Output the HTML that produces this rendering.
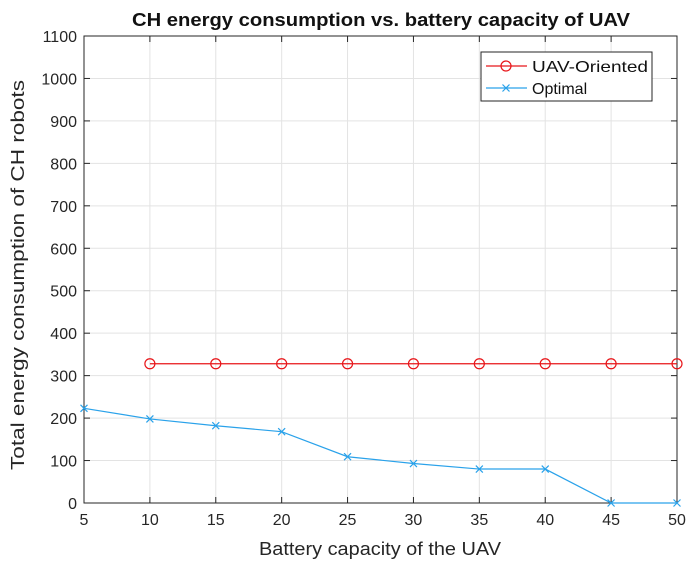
<!DOCTYPE html>
<html><head><meta charset="utf-8"><style>
body{margin:0;background:#fff;}
text{font-family:"Liberation Sans",Arial,sans-serif;}
</style></head><body>
<svg id="chart" width="694" height="568" xmlns="http://www.w3.org/2000/svg">
<rect width="694" height="568" fill="#fff"/>
<g id="grid"></g>
<g id="axes"></g>
<g id="series"></g>
<text x="381" y="26" text-anchor="middle" font-size="18" font-weight="bold" fill="#111" textLength="498" lengthAdjust="spacingAndGlyphs">CH energy consumption vs. battery capacity of UAV</text>
<text x="380" y="555" text-anchor="middle" font-size="18" fill="#262626" textLength="242" lengthAdjust="spacingAndGlyphs">Battery capacity of the UAV</text>
<text transform="translate(24,275) rotate(-90)" text-anchor="middle" font-size="18" fill="#262626" textLength="390" lengthAdjust="spacingAndGlyphs">Total energy consumption of CH robots</text>
<g>
<rect x="481" y="52" width="171" height="49" fill="#fff" stroke="#262626" stroke-width="1"/>
<g>
<line x1="486" y1="66" x2="527" y2="66" stroke="#e8161a" stroke-width="1.2"/>
<circle cx="506" cy="66" r="5" fill="none" stroke="#e8161a" stroke-width="1.2"/>
<text x="532" y="72" font-size="16" fill="#111" textLength="116" lengthAdjust="spacingAndGlyphs">UAV-Oriented</text>
</g>
<g>
<line x1="486" y1="88" x2="527" y2="88" stroke="#2aa2ea" stroke-width="1.2"/>
<path d="M502.5,84.5 L509.5,91.5 M509.5,84.5 L502.5,91.5" stroke="#2aa2ea" stroke-width="1.2"/>
<text x="532" y="94" font-size="16" fill="#111">Optimal</text>
</g>
</g>
</svg>
<script>
const xCategories=[5,10,15,20,25,30,35,40,45,50];
const uavX=[10,15,20,25,30,35,40,45,50];
const uavValues=[328,328,328,328,328,328,328,328,328];
const optimalValues=[223,198,182,168,109,93,80,80,0,0];
const yTicks=[0,100,200,300,400,500,600,700,800,900,1000,1100];
const xTicks=[5,10,15,20,25,30,35,40,45,50];
const L=84,R=677,T=36,B=503;
const xs=v=>L+(v-5)/45*(R-L);
const ys=v=>B-v/1100*(B-T);
const NS="http://www.w3.org/2000/svg";
function mk(tag,attrs,parent){const e=document.createElementNS(NS,tag);for(const k in attrs)e.setAttribute(k,attrs[k]);parent.appendChild(e);return e;}
const grid=document.getElementById('grid'),axes=document.getElementById('axes'),series=document.getElementById('series');
xTicks.forEach(t=>{
 const x=xs(t);
 const g=mk('line',{x1:x,y1:T,x2:x,y2:B,stroke:'#e3e3e3','stroke-width':1},grid);
 
 
 mk('line',{x1:x,y1:B,x2:x,y2:B-6,stroke:'#262626'},axes);
 mk('line',{x1:x,y1:T,x2:x,y2:T+6,stroke:'#262626'},axes);
 const tx=mk('text',{x:x,y:B+22,'text-anchor':'middle','font-size':16,fill:'#262626'},axes);
 tx.textContent=t;
 
 
});
yTicks.forEach(t=>{
 const y=ys(t);
 const g=mk('line',{x1:L,y1:y,x2:R,y2:y,stroke:'#e3e3e3','stroke-width':1},grid);
 
 
 mk('line',{x1:L,y1:y,x2:L+6,y2:y,stroke:'#262626'},axes);
 mk('line',{x1:R,y1:y,x2:R-6,y2:y,stroke:'#262626'},axes);
 const tx=mk('text',{x:L-7,y:y+6,'text-anchor':'end','font-size':16,fill:'#262626'},axes);
 tx.textContent=t;
 
 
});
const box=mk('rect',{x:L,y:T,width:R-L,height:B-T,fill:'none',stroke:'#262626','stroke-width':1},axes);


const p1=mk('polyline',{points:uavX.map((x,i)=>xs(x)+','+ys(uavValues[i])).join(' '),fill:'none',stroke:'#e8161a','stroke-width':1.2},series);


uavX.forEach((x,i)=>{
 const c=mk('circle',{cx:xs(x),cy:ys(uavValues[i]),r:5,fill:'none',stroke:'#e8161a','stroke-width':1.2},series);
 
 
});
const p2=mk('polyline',{points:xCategories.map((x,i)=>xs(x)+','+ys(optimalValues[i])).join(' '),fill:'none',stroke:'#2aa2ea','stroke-width':1.2},series);


xCategories.forEach((x,i)=>{
 const cx=xs(x),cy=ys(optimalValues[i]);
 const m=mk('path',{d:`M${cx-3.5},${cy-3.5}L${cx+3.5},${cy+3.5}M${cx+3.5},${cy-3.5}L${cx-3.5},${cy+3.5}`,stroke:'#2aa2ea','stroke-width':1.2},series);
 
 
});
</script>
</body></html>
